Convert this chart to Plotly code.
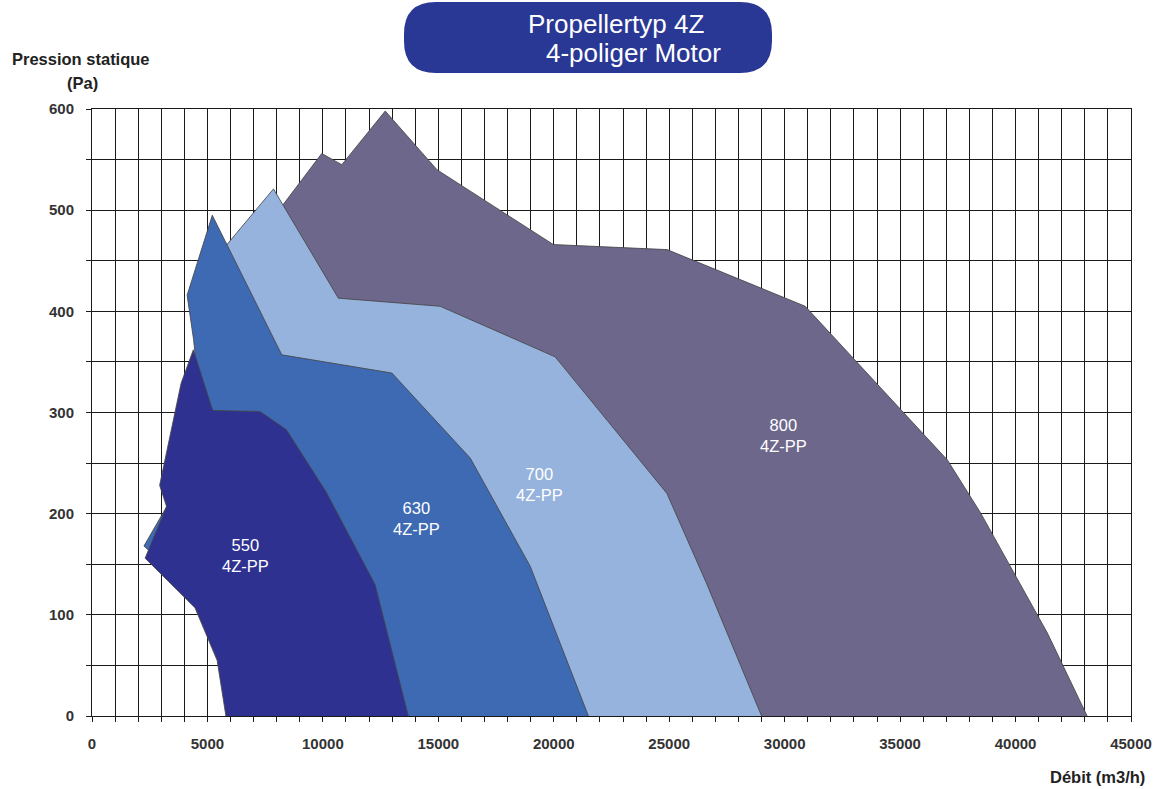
import plotly.graph_objects as go

# ---- data (Débit m3/h, Pression statique Pa) ----
x800 = [10300, 7930, 9950, 10820, 12700, 14940, 19980, 24910, 30890, 37050, 38480, 41380, 43100]
y800 = [0, 495, 556, 545, 598, 540, 466, 461, 405, 253, 201, 82, 0]

x700 = [9000, 6850, 5330, 7860, 10670, 15080, 20060, 24900, 26600, 29000]
y700 = [0, 312, 452, 521, 413, 405, 355, 220, 132, 0]

x630 = [7280, 7280, 2250, 3210, 3600, 4680, 4400, 4120, 5210, 8220, 12990, 16380, 18980, 21500]
y630 = [0, 65, 168, 206, 233, 312, 372, 416, 495, 357, 339, 255, 148, 0]

x550 = [5800, 5550, 5420, 4460, 2300, 3230, 2930, 3860, 4390, 5230, 7280, 8420, 10130, 12260, 13700]
y550 = [0, 35, 55, 107, 156, 207, 228, 329, 362, 302, 301, 283, 222, 130, 0]

series_names = ["800", "700", "630", "550"]
label_text = ["800<br>4Z-PP", "700<br>4Z-PP", "630<br>4Z-PP", "550<br>4Z-PP"]
label_x = [29950, 19380, 14040, 6630]
label_y = [277, 229, 195, 159]

x_tick_vals = [0, 5000, 10000, 15000, 20000, 25000, 30000, 35000, 40000, 45000]
y_tick_vals = [0, 100, 200, 300, 400, 500, 600]

title_line1 = "Propellertyp 4Z"
title_line2 = "4-poliger Motor"
y_title1 = "Pression statique"
y_title2 = "(Pa)"
x_title = "Débit (m3/h)"

colors = ["#6E678C", "#95B3DD", "#3E69B3", "#2E3190"]
xs = [x800, x700, x630, x550]
ys = [y800, y700, y630, y550]

W, H = 1163, 789
L, R, T, B = 92, 32, 109, 73
PW, PH = W - L - R, H - T - B


def px_x(p):
    return (p - L) / PW


def px_y(p):
    return (H - B - p) / PH


fig = go.Figure()
for name, xv, yv, c in zip(series_names, xs, ys, colors):
    fig.add_trace(go.Scatter(
        x=xv, y=yv, name=name, mode="lines", fill="toself", fillcolor=c,
        line=dict(color="rgba(70,70,70,0.85)", width=1), hoverinfo="skip",
    ))

for t, lx, ly in zip(label_text, label_x, label_y):
    fig.add_annotation(x=lx, y=ly, xref="x", yref="y", text=t, showarrow=False,
                       font=dict(family="Liberation Sans, Arial", size=16.5, color="white"),
                       align="center")

# title pill
x0, x1, y0, y1, r = 404, 772, 2, 73, 32
pts = [
    ("M", [(x0 + r, y0)]), ("L", [(x1 - r, y0)]), ("Q", [(x1, y0), (x1, y0 + r)]),
    ("L", [(x1, y1 - r)]), ("Q", [(x1, y1), (x1 - r, y1)]), ("L", [(x0 + r, y1)]),
    ("Q", [(x0, y1), (x0, y1 - r)]), ("L", [(x0, y0 + r)]), ("Q", [(x0, y0), (x0 + r, y0)]),
]
path = ""
for cmd, ps in pts:
    path += cmd + " " + " ".join(f"{px_x(a):.5f},{px_y(b):.5f}" for a, b in ps) + " "
path += "Z"
fig.add_shape(type="path", path=path, xref="paper", yref="paper",
              fillcolor="#2A3895", line=dict(width=0), layer="above")

fig.add_annotation(x=px_x(526), y=px_y(24), xref="paper", yref="paper", text=title_line1,
                   showarrow=False, xanchor="left", yanchor="middle",
                   font=dict(family="Liberation Sans, Arial", size=26, color="white"))
fig.add_annotation(x=px_x(544), y=px_y(53), xref="paper", yref="paper", text=title_line2,
                   showarrow=False, xanchor="left", yanchor="middle",
                   font=dict(family="Liberation Sans, Arial", size=26, color="white"))

axis_font = dict(family="Liberation Sans, Arial", size=16.5, color="#222222")
fig.add_annotation(x=px_x(10), y=px_y(59), xref="paper", yref="paper", text="<b>%s</b>" % y_title1,
                   showarrow=False, xanchor="left", yanchor="middle", font=axis_font)
fig.add_annotation(x=px_x(82), y=px_y(83), xref="paper", yref="paper", text="<b>%s</b>" % y_title2,
                   showarrow=False, xanchor="center", yanchor="middle", font=axis_font)
fig.add_annotation(x=px_x(1097), y=px_y(777), xref="paper", yref="paper", text="<b>%s</b>" % x_title,
                   showarrow=False, xanchor="center", yanchor="middle", font=axis_font)

grid_c = "#1a1a1a"
tick_font = dict(family="Liberation Sans, Arial", size=15, color="#333333", weight="bold")
fig.update_xaxes(range=[0, 45000], tickvals=x_tick_vals, ticktext=[str(v) for v in x_tick_vals],
                 showgrid=True, gridcolor=grid_c, gridwidth=1, zeroline=False,
                 showline=True, mirror=True, linecolor=grid_c, linewidth=1,
                 ticks="outside", ticklen=5, tickcolor=grid_c, tickfont=tick_font,
                 ticklabelstandoff=9,
                 minor=dict(dtick=1000, tick0=0, showgrid=True, gridcolor=grid_c, gridwidth=1,
                            ticks="outside", ticklen=5, tickcolor=grid_c))
fig.update_yaxes(range=[0, 600], tickvals=y_tick_vals, ticktext=[str(v) for v in y_tick_vals],
                 showgrid=True, gridcolor=grid_c, gridwidth=1, zeroline=False,
                 showline=True, mirror=True, linecolor=grid_c, linewidth=1,
                 ticks="outside", ticklen=5, tickcolor=grid_c, tickfont=tick_font,
                 ticklabelstandoff=9,
                 minor=dict(dtick=50, tick0=0, showgrid=True, gridcolor=grid_c, gridwidth=1,
                            ticks="outside", ticklen=5, tickcolor=grid_c))

fig.update_layout(width=W, height=H, margin=dict(l=L, r=R, t=T, b=B, autoexpand=False),
                  paper_bgcolor="white", plot_bgcolor="white", showlegend=False,
                  hovermode=False)

fig.write_html("out.html", config={"displayModeBar": False, "staticPlot": True},
               post_script="document.body.style.margin='0';document.body.style.overflow='hidden';")
